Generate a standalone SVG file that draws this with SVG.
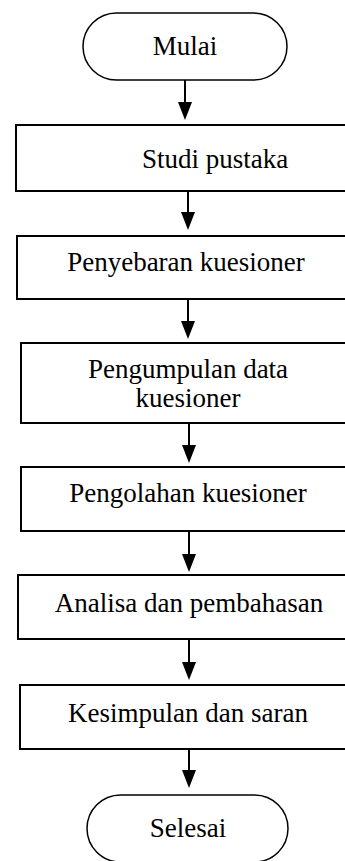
<svg xmlns="http://www.w3.org/2000/svg" width="345" height="861" viewBox="0 0 345 861">
<style>
.box{fill:#fff;stroke:#000;stroke-width:2}
.term{fill:#fff;stroke:#000;stroke-width:1.5}
.lbl{font-family:"Liberation Serif","Times New Roman",serif;font-size:27px;fill:#000;text-anchor:middle}
.edge{stroke:#000;stroke-width:2;fill:none;marker-end:url(#ah)}
</style>
<defs>
<marker id="ah" markerUnits="userSpaceOnUse" markerWidth="18" markerHeight="14" refX="15" refY="7" orient="auto" viewBox="0 0 18 14">
<path d="M0,0 L18,7 L0,14 Z" fill="#000"/>
</marker>
</defs>
<rect width="345" height="861" fill="#fff"/>
<g id="connectors">
<path class="edge" d="M185,80 L185,117"/>
<path class="edge" d="M188,191 L188,227"/>
<path class="edge" d="M188,299 L188,336"/>
<path class="edge" d="M189,423 L189,460"/>
<path class="edge" d="M189,531 L189,569"/>
<path class="edge" d="M189,639 L189,677"/>
<path class="edge" d="M189,749 L189,785"/>
</g>
<g id="mulai">
<rect class="term" x="83" y="13" width="204" height="67" rx="33.5" ry="33.5"/>
<text class="lbl" x="185" y="55">Mulai</text>
</g>
<g id="studi">
<rect class="box" x="16" y="125" width="340" height="66"/>
<text class="lbl" x="215" y="168">Studi pustaka</text>
</g>
<g id="penyebaran">
<rect class="box" x="17" y="236" width="340" height="63"/>
<text class="lbl" x="186" y="271">Penyebaran kuesioner</text>
</g>
<g id="pengumpulan">
<rect class="box" x="21" y="343" width="340" height="80"/>
<text class="lbl" x="188" y="378">Pengumpulan data</text>
<text class="lbl" x="188" y="407">kuesioner</text>
</g>
<g id="pengolahan">
<rect class="box" x="21" y="467" width="340" height="64"/>
<text class="lbl" x="188" y="502">Pengolahan kuesioner</text>
</g>
<g id="analisa">
<rect class="box" x="18" y="575" width="340" height="64"/>
<text class="lbl" x="189" y="612">Analisa dan pembahasan</text>
</g>
<g id="kesimpulan">
<rect class="box" x="20" y="685" width="340" height="64"/>
<text class="lbl" x="188" y="722">Kesimpulan dan saran</text>
</g>
<g id="selesai">
<rect class="term" x="87" y="795" width="201" height="67" rx="33.5" ry="33.5"/>
<text class="lbl" x="188" y="837">Selesai</text>
</g>
</svg>
